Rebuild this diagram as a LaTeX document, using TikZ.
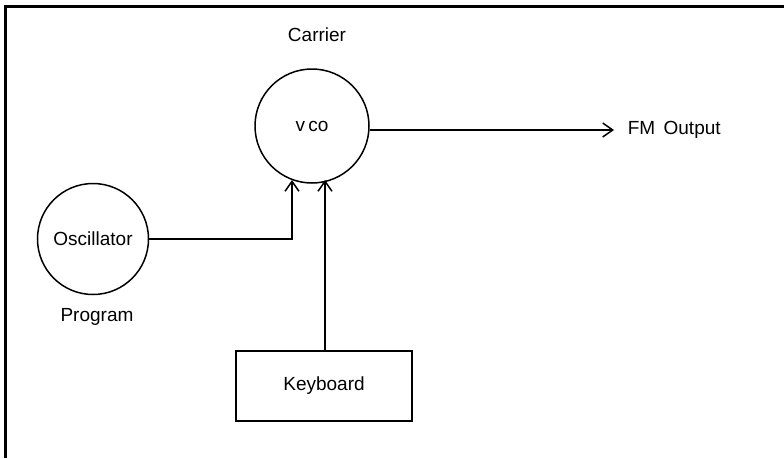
\documentclass[tikz,border=0pt]{standalone}
\usepackage{fontspec}
\setmainfont{Liberation Sans}
\usetikzlibrary{arrows.meta}
\begin{document}
\begin{tikzpicture}[x=1pt,y=-1pt,
  line width=1.5pt,
  txt/.style={font=\fontsize{19}{22}\selectfont, inner sep=0pt},
  circ/.style={draw, circle, minimum size=#1, inner sep=0pt},
  kbox/.style={draw, minimum width=176pt, minimum height=70pt},
  arr/.style={-{Straight Barb[length=10pt,width=14pt,line width=1.5pt]}}]
\useasboundingbox (0,0) rectangle (784,458);
\draw[line width=3pt] (5,458) -- (5,6) -- (784,6);
\node[circ=114pt, txt] (vco) at (312,126) {v\,co};
\node[txt] (carrier) at (317,35) {Carrier};
\node[circ=111pt, txt] (osc) at (93,239) {Oscillator};
\node[txt] (prog) at (97,317) {Program};
\node[kbox, txt] (kb) at (324,386) {Keyboard};
\coordinate (out) at (614,130);
\node[txt, anchor=west] (fm) at (627,130) {FM\,\ Output};
\coordinate (tipA) at (292,180);
\coordinate (tipB) at (325,180);
\draw[arr] (vco.east |- out) -- (out);
\draw[arr] (osc.east) -- (tipA |- osc.east) -- (tipA);
\draw[arr] (kb.north -| tipB) -- (tipB);
\end{tikzpicture}
\end{document}
